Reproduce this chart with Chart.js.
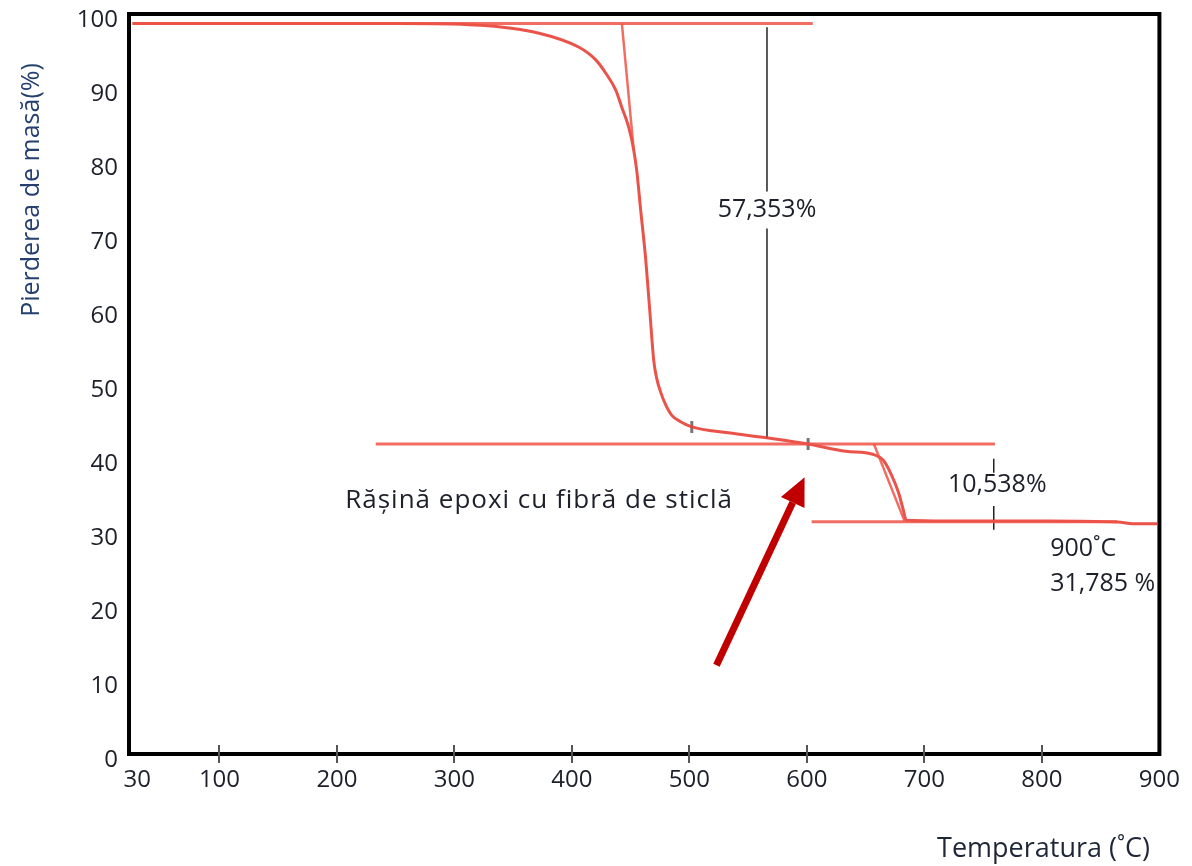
<!DOCTYPE html>
<html>
<head>
<meta charset="utf-8">
<script src="https://cdn.jsdelivr.net/npm/chart.js@4.4.1/dist/chart.umd.min.js"></script>
<style>
  html, body { margin: 0; padding: 0; background: #ffffff; }
  #wrap { width: 1192px; height: 866px; }
</style>
</head>
<body>
<div id="wrap"><canvas id="tgaChart" width="1192" height="866"></canvas></div>
<script>
// temperature ticks (°C) and mass ticks (%)
const tempTicks = [30, 100, 200, 300, 400, 500, 600, 700, 800, 900];
const massTickStep = 10;

// TGA curve
const curveTemp = [26, 168, 253, 318, 372, 406, 420.3, 428.8, 437.3, 442.4, 448.3, 452.6, 455.1, 458.5, 462.8, 466.2, 469.6, 472.1, 475.5, 479.7, 484.8, 492.5, 502, 533, 567, 601, 633, 656, 665, 672, 678, 682, 684.5, 720, 805, 864, 881, 898];
const curveMass = [98.7, 98.7, 98.7, 98.5, 97.4, 95.5, 93.8, 92.0, 89.7, 87.4, 84.7, 81.6, 78.9, 73.5, 66.8, 60.0, 53.2, 50.8, 48.9, 47.2, 45.8, 44.9, 44.2, 43.4, 42.7, 41.9, 40.9, 40.5, 39.7, 37.7, 35.3, 33.0, 31.6, 31.5, 31.5, 31.35, 31.1, 31.1];

// small instrument marks sitting on the curve
const markTemp = [502, 601];
const markMass = [44.2, 41.9];

// construction lines (baselines and tangents)
const topLevelTemp = [26, 605];
const topLevelMass = [98.7, 98.7];
const midLevelTemp = [233, 760];
const midLevelMass = [41.9, 41.9];
const lowLevelTemp = [604, 864];
const lowLevelMass = [31.4, 31.4];
const onsetTemp = [442.5, 452.6];
const onsetMass = [98.7, 81.6];
const onset2Temp = [657, 683];
const onset2Mass = [41.9, 31.5];

// mass-loss step markers
const step1Temp = 566;
const step1Mass = [98.2, 76.0, null, 71.0, 42.7];
const step2Temp = 759;
const step2Mass = [39.9, 38.0, null, 33.5, 30.3];

const pts = (xs, ys) => ys.map((y, i) => ({ x: Array.isArray(xs) ? xs[i] : xs, y: y }));

const RED = 'rgba(238, 84, 72, 0.85)';
const TEXT = '#1d1f2b';
const FONT = "'Open Sans', sans-serif";

// annotation texts, anchored in data units
const notes = [
    { text: '57,353%', t: 566, m: 73.5, align: 'center', size: 25, spacing: 0 },
    { text: '10,538%', t: 762, m: 36.4, align: 'center', size: 25, spacing: 0 },
    { text: 'Rășină epoxi cu fibră de sticlă', t: 207, m: 34.3, align: 'left', size: 26, spacing: 1 },
    { text: '900˚C', t: 807, m: 27.7, align: 'left', size: 25, spacing: 0 },
    { text: '31,785 %', t: 807, m: 23.0, align: 'left', size: 25, spacing: 0 }
];
const arrowFrom = { t: 523, m: 12.0 };
const arrowTo = { t: 598, m: 37.4 };

const decorPlugin = {
    id: 'decor',
    afterDraw(chart) {
        const ctx = chart.ctx;
        const a = chart.chartArea;
        const sx = chart.scales.x, sy = chart.scales.y;
        ctx.save();

        // frame
        ctx.strokeStyle = '#000';
        ctx.lineWidth = 4;
        ctx.strokeRect(a.left, a.top, a.right - a.left, a.bottom - a.top);

        // small tick marks crossing the x axis
        ctx.strokeStyle = '#555';
        ctx.lineWidth = 2;
        tempTicks.forEach(t => {
            if (t < 100 || t >= 900) return;
            const px = Math.round(sx.getPixelForValue(t));
            ctx.beginPath();
            ctx.moveTo(px, a.bottom - 9);
            ctx.lineTo(px, a.bottom + 9);
            ctx.stroke();
        });

        // notes
        ctx.fillStyle = TEXT;
        ctx.textBaseline = 'middle';
        notes.forEach(n => {
            ctx.font = n.size + "px " + FONT;
            ctx.letterSpacing = n.spacing + 'px';
            ctx.textAlign = n.align;
            ctx.fillText(n.text, sx.getPixelForValue(n.t), sy.getPixelForValue(n.m));
        });
        ctx.letterSpacing = '0px';

        // arrow
        const x0 = sx.getPixelForValue(arrowFrom.t), y0 = sy.getPixelForValue(arrowFrom.m);
        const x1 = sx.getPixelForValue(arrowTo.t), y1 = sy.getPixelForValue(arrowTo.m);
        const ang = Math.atan2(y1 - y0, x1 - x0);
        const head = 28, half = 13;
        const bx = x1 - head * Math.cos(ang), by = y1 - head * Math.sin(ang);
        ctx.strokeStyle = '#c00000';
        ctx.fillStyle = '#c00000';
        ctx.lineWidth = 7;
        ctx.beginPath();
        ctx.moveTo(x0, y0);
        ctx.lineTo(bx, by);
        ctx.stroke();
        ctx.beginPath();
        ctx.moveTo(x1, y1);
        ctx.lineTo(bx + half * Math.sin(ang), by - half * Math.cos(ang));
        ctx.lineTo(bx - half * Math.sin(ang), by + half * Math.cos(ang));
        ctx.closePath();
        ctx.fill();

        // axis titles
        ctx.fillStyle = '#25406e';
        ctx.font = "25px " + FONT;
        ctx.textAlign = 'center';
        ctx.textBaseline = 'middle';
        ctx.translate(32, 190);
        ctx.rotate(-Math.PI / 2);
        ctx.fillText('Pierderea de masă(%)', 0, 0);
        ctx.restore();

        ctx.save();
        ctx.fillStyle = '#1f2637';
        ctx.font = "27px " + FONT;
        ctx.textAlign = 'right';
        ctx.textBaseline = 'middle';
        ctx.fillText('Temperatura (˚C)', 1150, 849);
        ctx.restore();
    }
};

const redLine = (data, width) => ({
    data: data, showLine: true, borderColor: RED, borderWidth: width || 3,
    pointRadius: 0, fill: false
});

new Chart(document.getElementById('tgaChart').getContext('2d'), {
    type: 'scatter',
    data: {
        datasets: [
            redLine(pts(topLevelTemp, topLevelMass)),
            redLine(pts(midLevelTemp, midLevelMass)),
            redLine(pts(lowLevelTemp, lowLevelMass)),
            redLine(pts(onsetTemp, onsetMass), 2.5),
            redLine(pts(onset2Temp, onset2Mass), 2.5),
            Object.assign(redLine(pts(curveTemp, curveMass), 3), { cubicInterpolationMode: 'monotone', borderColor: 'rgba(232, 64, 54, 0.9)' }),
            { data: pts(markTemp, markMass), showLine: false, pointStyle: 'line', rotation: 90, pointRadius: 6, borderColor: '#777', borderWidth: 3 },
            { data: pts(step1Temp, step1Mass), showLine: true, spanGaps: false, borderColor: '#222', borderWidth: 1.5, pointRadius: 0 },
            { data: pts(step2Temp, step2Mass), showLine: true, spanGaps: false, borderColor: '#222', borderWidth: 1.5, pointRadius: 0 }
        ]
    },
    options: {
        responsive: false,
        animation: false,
        devicePixelRatio: 1,
        layout: { padding: { top: 14, right: 30, left: 0, bottom: 0 } },
        plugins: { legend: { display: false }, tooltip: { enabled: false } },
        scales: {
            x: {
                type: 'linear',
                min: 23,
                max: 900,
                afterBuildTicks: s => { s.ticks = tempTicks.map(v => ({ value: v })); },
                afterFit: s => { s.height = 112; },
                grid: { display: false, drawTicks: false },
                border: { display: false },
                ticks: { color: TEXT, font: { family: FONT, size: 24 }, padding: 12, maxRotation: 0, autoSkip: false }
            },
            y: {
                min: 0,
                max: 100,
                afterFit: s => { s.width = 129; s.paddingTop = 0; s.paddingBottom = 0; },
                grid: { display: false, drawTicks: false },
                border: { display: false },
                ticks: { stepSize: massTickStep, color: TEXT, font: { family: FONT, size: 24 }, padding: 11, labelOffset: 6 }
            }
        }
    },
    plugins: [decorPlugin]
});
</script>
</body>
</html>
